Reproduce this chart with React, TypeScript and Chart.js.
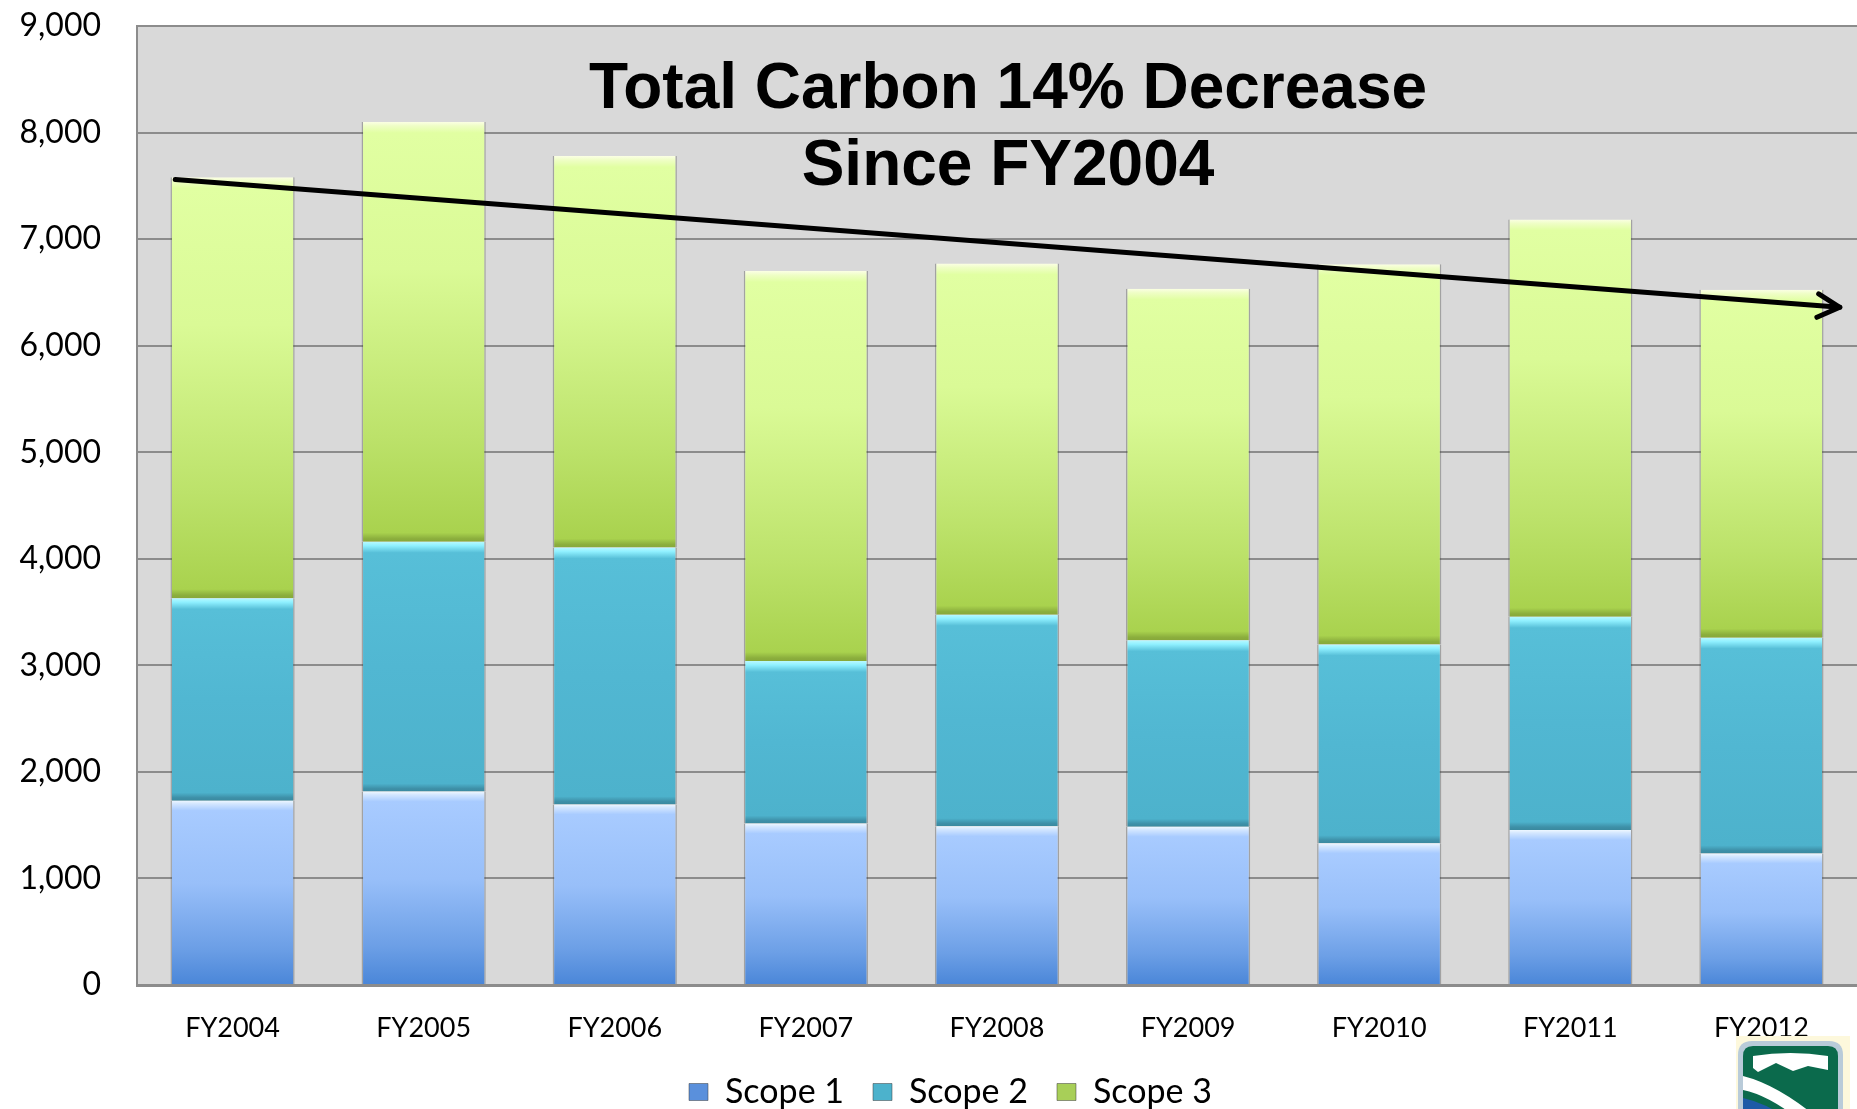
import React, { useEffect, useRef } from "react";
import { Chart, registerables } from "chart.js";

Chart.register(...registerables);

// ---------- data ----------
const categories = ["FY2004", "FY2005", "FY2006", "FY2007", "FY2008", "FY2009", "FY2010", "FY2011", "FY2012"];
const scope1 = [1730, 1815, 1695, 1515, 1490, 1485, 1330, 1455, 1235];
const scope2 = [1900, 2345, 2410, 1525, 1985, 1750, 1865, 2000, 2025];
const scope3 = [3950, 3940, 3675, 3660, 3295, 3300, 3570, 3730, 3265];
const seriesNames = ["Scope 1", "Scope 2", "Scope 3"];
const yMin = 0;
const yMax = 9000;
const yStep = 1000;
const titleLines = ["Total Carbon 14% Decrease", "Since FY2004"];
// trend arrow endpoints: [category position, value]
const trendStart = [-0.3, 7560];
const trendEnd = [8.41, 6360];

const allSeries = [scope1, scope2, scope3];

// ---------- styles ----------
const baseColors = ["#8fb8f2", "#50b7d2", "#c8ec78"];
const legendColors = ["#5a90dc", "#4cb2cc", "#a8cf58"];
const FONT = "Lato, 'Open Sans', sans-serif";

type Stop = [number | string, string];
// stop positions: number = fraction, "t:N" = N px from top, "b:N" = N px from bottom
const gradientStops: Stop[][] = [
  [
    ["t:0", "#eef7ff"],
    ["t:3", "#d4e7ff"],
    ["t:10", "#a8cbff"],
    [0.45, "#98bff9"],
    [0.8, "#6c9fe6"],
    ["b:0", "#4a86d8"],
  ],
  [
    ["t:0", "#b8f9ff"],
    ["t:4", "#8ff0ff"],
    ["t:11", "#57bfd8"],
    [0.5, "#51b7d2"],
    ["b:8", "#4db2cc"],
    ["b:3", "#3e90a8"],
    ["b:0", "#3a899f"],
  ],
  [
    ["t:0", "#fbffe4"],
    ["t:4", "#effec6"],
    ["t:11", "#e1ffa2"],
    [0.35, "#dafa96"],
    [0.75, "#bce26a"],
    ["b:9", "#a9d24e"],
    ["b:3", "#8bae3d"],
    ["b:0", "#87a83a"],
  ],
];

function makeBackground(si: number) {
  return (ctx: any) => {
    const base = baseColors[si];
    if (!ctx || ctx.type !== "data") return base;
    const chart = ctx.chart;
    const ys = chart.scales && chart.scales.y;
    if (!ys || !chart.chartArea) return base;
    const i = ctx.dataIndex;
    let lo = 0;
    for (let k = 0; k < si; k++) lo += allSeries[k][i];
    const hi = lo + allSeries[si][i];
    const yTop = ys.getPixelForValue(hi);
    const yBot = ys.getPixelForValue(lo);
    if (!isFinite(yTop) || !isFinite(yBot)) return base;
    const h = Math.max(1, yBot - yTop);
    const g = chart.ctx.createLinearGradient(0, yTop, 0, yBot);
    let prev = 0;
    for (const [pos, col] of gradientStops[si]) {
      let f: number;
      if (typeof pos === "number") f = pos;
      else if (pos.startsWith("t:")) f = parseFloat(pos.slice(2)) / h;
      else f = 1 - parseFloat(pos.slice(2)) / h;
      f = Math.min(1, Math.max(prev, f));
      prev = f;
      g.addColorStop(f, col);
    }
    return g;
  };
}

const plotBackground = {
  id: "plotBackground",
  beforeDraw(chart: any) {
    const { ctx, chartArea } = chart;
    if (!chartArea) return;
    ctx.save();
    ctx.fillStyle = "#d9d9d9";
    ctx.fillRect(chartArea.left, chartArea.top, chartArea.right - chartArea.left, chartArea.bottom - chartArea.top);
    ctx.restore();
  },
};

const legendShift = {
  id: "legendShift",
  afterLayout(chart: any) {
    const lg = chart.legend;
    if (lg) {
      lg.left += 22;
      lg.right += 22;
    }
  },
};

const overlay = {
  id: "overlay",
  afterDatasetsDraw(chart: any) {
    const { ctx, chartArea, scales } = chart;
    const xs = scales.x;
    const ys = scales.y;
    ctx.save();
    // title
    ctx.fillStyle = "#000";
    ctx.font = "bold 64px 'Liberation Sans', Arial, sans-serif";
    ctx.textAlign = "center";
    ctx.textBaseline = "alphabetic";
    const cx = (chartArea.left + chartArea.right) / 2 + 11;
    ctx.fillText(titleLines[0], cx, chartArea.top + 82);
    ctx.fillText(titleLines[1], cx, chartArea.top + 159);

    // trend arrow
    const x0 = xs.getPixelForValue(trendStart[0]);
    const y0 = ys.getPixelForValue(trendStart[1]);
    const x1 = xs.getPixelForValue(trendEnd[0]);
    const y1 = ys.getPixelForValue(trendEnd[1]);
    ctx.strokeStyle = "#000";
    ctx.lineWidth = 5;
    ctx.lineCap = "round";
    ctx.lineJoin = "round";
    ctx.beginPath();
    ctx.moveTo(x0, y0);
    ctx.lineTo(x1, y1);
    ctx.stroke();
    const th = Math.atan2(y1 - y0, x1 - x0);
    const L = 25;
    const a = (28 * Math.PI) / 180;
    ctx.beginPath();
    ctx.moveTo(x1 - L * Math.cos(th - a), y1 - L * Math.sin(th - a));
    ctx.lineTo(x1, y1);
    ctx.lineTo(x1 - L * Math.cos(th + a), y1 - L * Math.sin(th + a));
    ctx.stroke();
    ctx.restore();
  },
  afterDraw(chart: any) {
    // small emblem at bottom-right corner (decoration)
    const { ctx, chartArea } = chart;
    const W = chart.width;
    const top = chartArea.bottom + 51;
    const left = W - 121;
    ctx.save();
    ctx.fillStyle = "#fdf8dc";
    ctx.fillRect(left, top, 114, 90);
    const sx = left + 2;
    const sw = 105;
    const sy = top + 5;
    ctx.fillStyle = "#b9cbd9";
    ctx.beginPath();
    ctx.moveTo(sx, sy + 14);
    ctx.quadraticCurveTo(sx, sy, sx + 14, sy);
    ctx.lineTo(sx + sw - 14, sy);
    ctx.quadraticCurveTo(sx + sw, sy, sx + sw, sy + 14);
    ctx.lineTo(sx + sw, sy + 90);
    ctx.lineTo(sx, sy + 90);
    ctx.closePath();
    ctx.fill();
    const ix = sx + 5;
    const iw = sw - 10;
    const iy = sy + 5;
    ctx.fillStyle = "#0b6a4c";
    ctx.beginPath();
    ctx.moveTo(ix, iy + 10);
    ctx.quadraticCurveTo(ix, iy, ix + 10, iy);
    ctx.lineTo(ix + iw - 10, iy);
    ctx.quadraticCurveTo(ix + iw, iy, ix + iw, iy + 10);
    ctx.lineTo(ix + iw, iy + 85);
    ctx.lineTo(ix, iy + 85);
    ctx.closePath();
    ctx.fill();
    ctx.fillStyle = "#ffffff";
    ctx.beginPath();
    ctx.moveTo(ix + 10, iy + 10);
    ctx.quadraticCurveTo(ix + iw / 2, iy + 4, ix + iw - 10, iy + 10);
    ctx.lineTo(ix + iw - 10, iy + 24);
    ctx.lineTo(ix + iw - 30, iy + 20);
    ctx.lineTo(ix + iw - 45, iy + 25);
    ctx.lineTo(ix + iw - 62, iy + 17);
    ctx.lineTo(ix + iw - 80, iy + 26);
    ctx.lineTo(ix + 10, iy + 22);
    ctx.closePath();
    ctx.fill();
    ctx.beginPath();
    ctx.moveTo(ix, iy + 30);
    ctx.quadraticCurveTo(ix + 40, iy + 40, ix + iw - 5, iy + 85);
    ctx.lineTo(ix + iw - 25, iy + 85);
    ctx.quadraticCurveTo(ix + 30, iy + 50, ix, iy + 44);
    ctx.closePath();
    ctx.fill();
    ctx.fillStyle = "#1e5aa7";
    ctx.beginPath();
    ctx.moveTo(ix, iy + 52);
    ctx.quadraticCurveTo(ix + 28, iy + 58, ix + iw - 32, iy + 85);
    ctx.lineTo(ix, iy + 85);
    ctx.closePath();
    ctx.fill();
    ctx.restore();
  },
};

export default function App() {
  const canvasRef = useRef<HTMLCanvasElement | null>(null);

  useEffect(() => {
    const canvas = canvasRef.current;
    if (!canvas) return;
    const datasets = allSeries.map((vals, si) => ({
      label: seriesNames[si],
      data: vals,
      backgroundColor: makeBackground(si),
      borderColor: "rgba(60,60,60,0.35)",
      borderWidth: { left: 1.5, right: 1.5, top: 0, bottom: 0 },
      borderSkipped: false as const,
      categoryPercentage: 1,
      barPercentage: 0.65,
      stack: "s",
    }));

    const defaultLabels = (Chart as any).defaults.plugins.legend.labels.generateLabels;

    const chart = new Chart(canvas, {
      type: "bar",
      data: { labels: categories, datasets },
      options: {
        responsive: false,
        maintainAspectRatio: false,
        animation: false,
        devicePixelRatio: 1,
        layout: { padding: { top: 0, left: 0, right: 0, bottom: 0 } },
        plugins: {
          legend: {
            position: "bottom",
            labels: {
              color: "#000",
              font: { family: FONT, size: 34 },
              boxWidth: 19,
              boxHeight: 17,
              padding: 29,
              generateLabels: (ch: any) =>
                defaultLabels(ch).map((it: any, i: number) => ({
                  ...it,
                  fillStyle: legendColors[i],
                  strokeStyle: "rgba(60,60,60,0.5)",
                  lineWidth: 1,
                })),
            },
          },
          tooltip: { enabled: false },
          title: { display: false },
        },
        scales: {
          x: {
            stacked: true,
            grid: { display: false, drawTicks: false },
            border: { display: true, color: "#8c8c8c", width: 3 },
            ticks: { color: "#000", font: { family: FONT, size: 27 }, padding: 27 },
            afterFit: (s: any) => {
              s.height = 61;
            },
          },
          y: {
            stacked: true,
            min: yMin,
            max: yMax,
            ticks: { stepSize: yStep, color: "#000", font: { family: FONT, size: 32 }, padding: 36 },
            grid: { color: "#8c8c8c", lineWidth: 2, drawTicks: false },
            border: { display: true, color: "#8c8c8c", width: 2 },
            afterFit: (s: any) => {
              s.width = 137;
              s.paddingTop = 26;
              s.paddingBottom = 0;
            },
          },
        },
      },
      plugins: [plotBackground, legendShift, overlay],
    });
    return () => chart.destroy();
  }, []);

  return (
    <div
      style={{
        position: "fixed",
        left: 0,
        top: 0,
        width: 1857,
        height: 1109,
        overflow: "hidden",
        background: "#fff",
      }}
    >
      <canvas ref={canvasRef} width={1857} height={1119} style={{ display: "block", width: 1857, height: 1119 }} />
    </div>
  );
}
